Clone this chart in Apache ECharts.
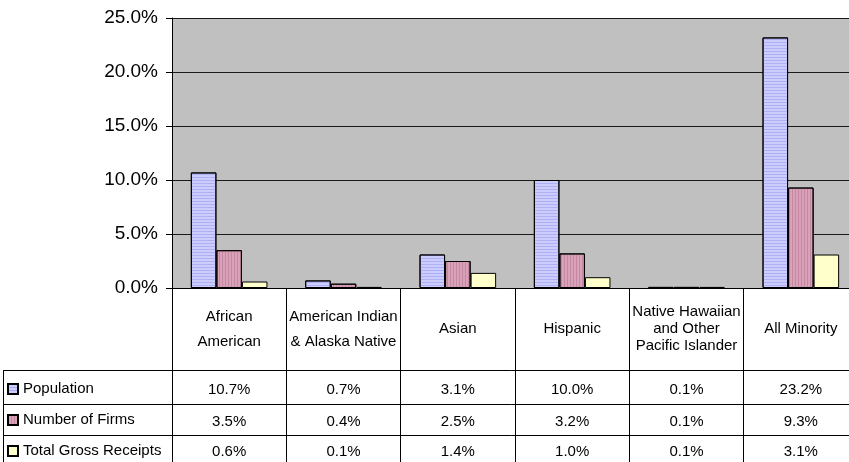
<!DOCTYPE html>
<html>
<head>
<meta charset="utf-8">
<script src="https://cdn.jsdelivr.net/npm/echarts@6/dist/echarts.min.js"></script>
<style>
html,body{margin:0;padding:0;background:#fff;}
#chart{width:849px;height:462px;}
</style>
</head>
<body>
<div id="chart"></div>
<script>
// ---- data ----
const categories = ['African\nAmerican', 'American Indian\n& Alaska Native', 'Asian', 'Hispanic', 'Native Hawaiian\nand Other\nPacific Islander', 'All Minority'];
const categoryLineHeights = [25, 25, 20, 20, 17, 20];
const seriesNames = ['Population', 'Number of Firms', 'Total Gross Receipts'];
const population = [10.7, 0.7, 3.1, 10.0, 0.1, 23.2];
const firms = [3.5, 0.4, 2.5, 3.2, 0.1, 9.3];
const receipts = [0.6, 0.1, 1.4, 1.0, 0.1, 3.1];
const yTicks = [0, 5, 10, 15, 20, 25];

// ---- layout / style ----
const FONT = "Arial, 'Liberation Sans', sans-serif";
const W = 849, H = 462;
const plotLeft = 172, plotTop = 18, plotBottomY = 288, plotWidth = 686;
const rowLines = [370, 404, 435];   // table horizontal rules (y)
const rowLabelMargins = [19.5, 17.5, 17];
const tableLeft = 3;
const colors = ['#ccccff', '#d9a2b9', '#ffffcc'];
const fmt = v => v.toFixed(1) + '%';
const allSeries = [population, firms, receipts];

const chart = echarts.init(document.getElementById('chart'), null, {renderer: 'canvas'});

const baseCatAxis = {
  type: 'category',
  gridIndex: 0,
  position: 'bottom',
  boundaryGap: true,
  axisTick: {show: false},
  splitLine: {show: false},
};

const xAxes = [Object.assign({}, baseCatAxis, {
  data: categories.map((c, i) => ({
    value: c,
    textStyle: {lineHeight: categoryLineHeights[i], verticalAlign: 'middle', align: 'center', fontSize: 15, color: '#000', fontFamily: FONT}
  })),
  axisLine: {show: true, onZero: false, lineStyle: {color: '#000', width: 1}},
  axisTick: {show: true, inside: false, length: H - plotBottomY, interval: 0, lineStyle: {color: '#000', width: 1}},
  axisLabel: {
    interval: 0, margin: (rowLines[0] - plotBottomY) / 2, verticalAlign: 'middle', align: 'center',
    color: '#000', fontSize: 15, fontFamily: FONT
  }
})];

allSeries.forEach((arr, k) => {
  const lineY = rowLines[k];
  xAxes.push(Object.assign({}, baseCatAxis, {
    data: arr.map(fmt),
    offset: lineY - plotBottomY,
    axisLine: {show: true, onZero: false, lineStyle: {color: '#000', width: 1}},
    axisLabel: {
      interval: 0, margin: rowLabelMargins[k], verticalAlign: 'middle', align: 'center',
      color: '#000', fontSize: 15, fontFamily: FONT
    }
  }));
});

const decals = [
  {symbol: 'rect', symbolSize: 1, dashArrayX: [8, 0], dashArrayY: [1, 2], color: 'rgba(140,140,230,0.45)'},
  {symbol: 'rect', symbolSize: 1, dashArrayX: [1, 2], dashArrayY: [8, 0], color: 'rgba(160,90,120,0.35)'},
  null
];

const option = {
  animation: false,
  backgroundColor: '#ffffff',
  textStyle: {fontFamily: FONT},
  grid: {
    left: plotLeft, top: plotTop, width: plotWidth, height: plotBottomY - plotTop,
    containLabel: false, outerBoundsMode: 'none',
    show: true, backgroundColor: '#c0c0c0', borderWidth: 0
  },
  legend: {
    type: 'plain',
    orient: 'vertical',
    left: tableLeft + 4,
    top: rowLines[0] + 9,
    height: 140,
    padding: 0,
    itemWidth: 10, itemHeight: 10,
    itemGap: 11,
    icon: 'rect',
    selectedMode: false,
    textStyle: {color: '#000', fontSize: 15, fontFamily: FONT, lineHeight: 20},
    data: seriesNames
  },
  xAxis: xAxes,
  yAxis: {
    type: 'value', min: yTicks[0], max: yTicks[yTicks.length - 1], interval: 5,
    axisLine: {show: true, lineStyle: {color: '#000', width: 1}},
    axisTick: {show: true, inside: false, length: 6, lineStyle: {color: '#000'}},
    axisLabel: {formatter: v => fmt(v), color: '#000', fontSize: 19, fontFamily: FONT, margin: 14},
    splitLine: {show: true, lineStyle: {color: '#1a1a1a', width: 1}}
  },
  series: allSeries.map((arr, k) => ({
    name: seriesNames[k],
    type: 'bar',
    xAxisIndex: 0,
    yAxisIndex: 0,
    data: arr,
    barGap: '0%',
    barCategoryGap: '33%',
    itemStyle: {color: colors[k], borderColor: '#000', borderWidth: 1, decal: decals[k] || undefined},
    emphasis: {disabled: true}
  })),
  graphic: [
    ...rowLines.map(y => ({
      type: 'line', silent: true,
      shape: {x1: tableLeft, y1: y + 0.5, x2: plotLeft, y2: y + 0.5},
      style: {stroke: '#000', lineWidth: 1}
    })),
    {
      type: 'line', silent: true,
      shape: {x1: tableLeft + 0.5, y1: rowLines[0], x2: tableLeft + 0.5, y2: H},
      style: {stroke: '#000', lineWidth: 1}
    }
  ]
};

chart.setOption(option);
</script>
</body>
</html>
